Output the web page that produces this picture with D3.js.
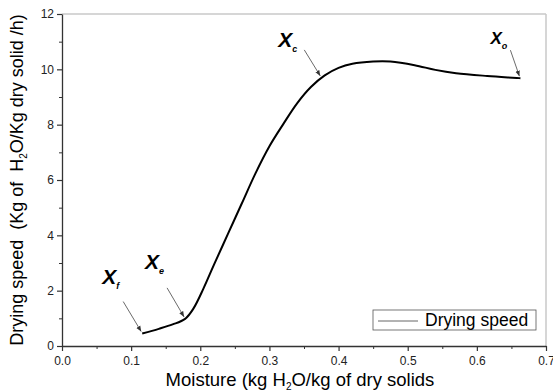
<!DOCTYPE html>
<html>
<head>
<meta charset="utf-8">
<script src="https://cdn.jsdelivr.net/npm/d3@7"></script>
<style>
  body { margin: 0; background: #fff; }
  text { font-family: "Liberation Sans", Arial, sans-serif; white-space: pre; }
</style>
</head>
<body>
<svg width="553" height="392"></svg>
<script>
// drying curve
const moisture = [0.116, 0.14, 0.16, 0.178, 0.19, 0.205, 0.22, 0.24, 0.26, 0.28, 0.30, 0.32, 0.34, 0.36, 0.38, 0.40, 0.42, 0.45, 0.475, 0.51, 0.54, 0.57, 0.615, 0.663];
const speed    = [0.45, 0.62, 0.78, 0.98, 1.35, 2.10, 2.95, 4.05, 5.15, 6.25, 7.22, 8.02, 8.77, 9.36, 9.78, 10.05, 10.20, 10.28, 10.28, 10.15, 9.98, 9.86, 9.76, 9.68];

const xTicks = [0, 0.1, 0.2, 0.3, 0.4, 0.5, 0.6, 0.7];
const yTicks = [0, 2, 4, 6, 8, 10, 12];

// point labels: subscript and the data point they point at
const marks = [
  { sub: "f", x: 0.116, y: 0.45 },
  { sub: "e", x: 0.178, y: 0.98 },
  { sub: "c", x: 0.375, y: 9.69 },
  { sub: "o", x: 0.663, y: 9.68 }
];

const margin = {top: 14, right: 7, bottom: 46, left: 62};
const width = 553 - margin.left - margin.right,
      height = 392 - margin.top - margin.bottom;

const svg = d3.select("svg");
const g = svg.append("g").attr("transform", "translate(" + margin.left + "," + margin.top + ")");

const x = d3.scaleLinear().domain([0, 0.7]).range([0, width]);
const y = d3.scaleLinear().domain([0, 12]).range([height, 0]);

// light frame on top and right
g.append("line").attr("x1", 0).attr("x2", width).attr("y1", 0).attr("y2", 0)
  .attr("stroke", "#c8c8c8").attr("stroke-width", 1.5);
g.append("line").attr("x1", width).attr("x2", width).attr("y1", 0).attr("y2", height)
  .attr("stroke", "#c8c8c8").attr("stroke-width", 1.5);

// minor ticks
g.append("g").attr("transform", "translate(0," + height + ")")
  .call(d3.axisBottom(x).tickValues(d3.range(0.05, 0.7, 0.1)).tickSize(3).tickFormat(""))
  .call(a => a.select(".domain").remove())
  .selectAll("line").attr("stroke", "#333");
g.append("g")
  .call(d3.axisLeft(y).tickValues(d3.range(1, 12, 2)).tickSize(3).tickFormat(""))
  .call(a => a.select(".domain").remove())
  .selectAll("line").attr("stroke", "#333");

// main axes
const xAxis = g.append("g").attr("transform", "translate(0," + height + ")")
  .call(d3.axisBottom(x).tickValues(xTicks).tickSize(5).tickSizeOuter(0).tickFormat(d3.format(".1f")));
const yAxis = g.append("g")
  .call(d3.axisLeft(y).tickValues(yTicks).tickSize(5).tickSizeOuter(0));
[xAxis, yAxis].forEach(a => {
  a.select(".domain").attr("stroke", "#333").attr("stroke-width", 1.3);
  a.selectAll(".tick line").attr("stroke", "#333").attr("stroke-width", 1.2);
  a.selectAll("text").style("font-size", "12px").attr("fill", "#222");
});
xAxis.selectAll("text").attr("dy", "0.95em");

// the curve
const data = moisture.map((m, i) => ({m: m, s: speed[i]}));
g.append("path").datum(data)
  .attr("fill", "none")
  .attr("stroke", "#000")
  .attr("stroke-width", 2)
  .attr("d", d3.line().x(d => x(d.m)).y(d => y(d.s)).curve(d3.curveCatmullRom.alpha(0.5)));

// arrowhead
svg.append("defs").append("marker")
  .attr("id", "arr").attr("viewBox", "0 0 10 10").attr("refX", 10).attr("refY", 5)
  .attr("markerWidth", 7).attr("markerHeight", 7).attr("orient", "auto")
  .append("path").attr("d", "M0,1L10,5L0,9Z").attr("fill", "#333");

// label positions relative to the tip (pixel offsets)
const offs = [
  {lx: -40, ly: -50, ax: -19, ay: -32},
  {lx: -40, ly: -50, ax: -18, ay: -31},
  {lx: -43, ly: -31, ax: -17, ay: -28},
  {lx: -30, ly: -34, ax: -10, ay: -28}
];
marks.forEach((mk, i) => {
  const px = x(mk.x), py = y(mk.y), o = offs[i];
  g.append("line")
    .attr("x1", px + o.ax).attr("y1", py + o.ay).attr("x2", px - 1).attr("y2", py - 2)
    .attr("stroke", "#444").attr("stroke-width", 0.8)
    .attr("marker-end", "url(#arr)");
  const t = g.append("text").attr("x", px + o.lx).attr("y", py + o.ly)
    .style("font-size", i === 3 ? "17px" : "21px").style("font-weight", "bold").style("font-style", "italic")
    .text("X");
  t.append("tspan").attr("dy", 5).style("font-size", "9px").text(mk.sub);
});

// legend
const lg = g.append("g").attr("transform", "translate(" + (373 - margin.left) + "," + (310 - margin.top) + ")");
lg.append("rect").attr("width", 163).attr("height", 20)
  .attr("fill", "#fff").attr("stroke", "#555").attr("stroke-width", 0.8);
lg.append("line").attr("x1", 5).attr("x2", 45).attr("y1", 11).attr("y2", 11)
  .attr("stroke", "#666").attr("stroke-width", 1);
lg.append("text").attr("x", 52).attr("y", 16).style("font-size", "17.5px").text("Drying speed");

// axis titles
const xt = svg.append("text").attr("x", 300).attr("y", 386).attr("text-anchor", "middle")
  .style("font-size", "18.5px");
xt.append("tspan").text("Moisture (kg H");
xt.append("tspan").attr("dy", 4).style("font-size", "10px").text("2");
xt.append("tspan").attr("dy", -4).text("O/kg of dry solids");

const yt = svg.append("text").attr("transform", "translate(23," + 180 + ") rotate(-90)")
  .attr("text-anchor", "middle").style("font-size", "18px");
yt.append("tspan").text("Drying speed  (Kg of  H");
yt.append("tspan").attr("dy", 4).style("font-size", "10px").text("2");
yt.append("tspan").attr("dy", -4).text("O/Kg dry solid /h)");
</script>
</body>
</html>
